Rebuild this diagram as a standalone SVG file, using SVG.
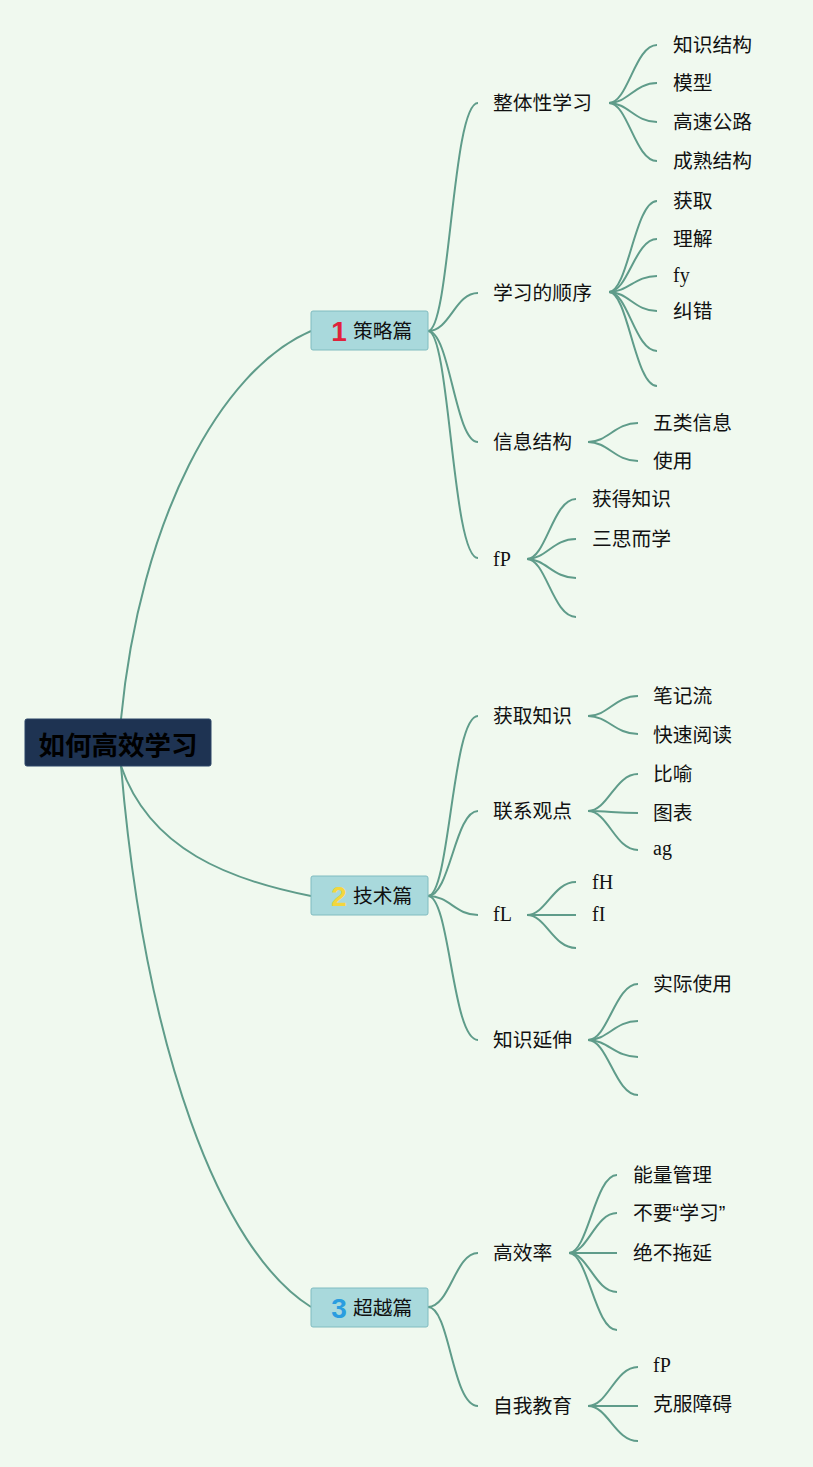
<svg xmlns="http://www.w3.org/2000/svg" width="813" height="1467" viewBox="0 0 813 1467">
<style>
.bg{fill:#f0f9ef}
.c{fill:none;stroke:#5f9c8a;stroke-width:2}
.t{font-family:"Noto Sans CJK SC","Noto Sans",sans-serif;font-size:19.8px;fill:#111}
.q{font-family:"Liberation Sans",sans-serif}
.s{font-family:"Liberation Serif",serif;font-size:20px;fill:#111}
.box{fill:#a9d9dc;stroke:#80bcc0;stroke-width:1}
.num{font-family:"Liberation Sans",Arial,sans-serif;font-weight:bold;font-size:28px}
.root{fill:#1e3352;stroke:#2a4466;stroke-width:1}
.rt{font-family:"Noto Sans CJK SC",sans-serif;font-weight:bold;font-size:26.5px;fill:#000}
</style>
<rect class="bg" x="0" y="0" width="813" height="1467"/>
<g id="connectors">
<path class="c" d="M121,719 C140,520 220,370 311,331"/>
<path class="c" d="M121,766 C150,850 230,880 311,896"/>
<path class="c" d="M121,766 C145,1050 220,1250 311,1307"/>
<path class="c" d="M428,331 C450,331 452,103 478,103"/>
<path class="c" d="M428,331 C450,331 455,293 478,293"/>
<path class="c" d="M428,331 C450,331 455,442 478,442"/>
<path class="c" d="M428,331 C450,331 452,558 478,558"/>
<path class="c" d="M609,103 C628,103 635,45 657,45"/>
<path class="c" d="M609,103 C628,103 635,83 657,83"/>
<path class="c" d="M609,103 C628,103 635,122 657,122"/>
<path class="c" d="M609,103 C628,103 635,161 657,161"/>
<path class="c" d="M609,292 C628,292 635,201 657,201"/>
<path class="c" d="M609,292 C628,292 635,239 657,239"/>
<path class="c" d="M609,292 C628,292 635,276 657,276"/>
<path class="c" d="M609,292 C628,292 635,311 657,311"/>
<path class="c" d="M609,292 C628,292 635,351 657,351"/>
<path class="c" d="M609,292 C628,292 635,386 657,386"/>
<path class="c" d="M588,442 C608,442 615,423 638,423"/>
<path class="c" d="M588,442 C608,442 615,461 638,461"/>
<path class="c" d="M527,559 C546,559 553,499 576,499"/>
<path class="c" d="M527,559 C546,559 553,539 576,539"/>
<path class="c" d="M527,559 C546,559 553,578 576,578"/>
<path class="c" d="M527,559 C546,559 553,617 576,617"/>
<path class="c" d="M428,896 C450,896 452,716 478,716"/>
<path class="c" d="M428,896 C450,896 455,811 478,811"/>
<path class="c" d="M428,896 C450,896 455,915 478,915"/>
<path class="c" d="M428,896 C450,896 452,1040 478,1040"/>
<path class="c" d="M588,716 C608,716 615,696 638,696"/>
<path class="c" d="M588,716 C608,716 615,734 638,734"/>
<path class="c" d="M588,811 C608,811 615,774 638,774"/>
<path class="c" d="M588,811 C608,811 615,813 638,813"/>
<path class="c" d="M588,811 C608,811 615,850 638,850"/>
<path class="c" d="M527,915 C546,915 553,882 576,882"/>
<path class="c" d="M527,915 C546,915 553,915 576,915"/>
<path class="c" d="M527,915 C546,915 553,948 576,948"/>
<path class="c" d="M588,1040 C608,1040 615,984 638,984"/>
<path class="c" d="M588,1040 C608,1040 615,1021 638,1021"/>
<path class="c" d="M588,1040 C608,1040 615,1057 638,1057"/>
<path class="c" d="M588,1040 C608,1040 615,1095 638,1095"/>
<path class="c" d="M428,1307 C450,1307 455,1253 478,1253"/>
<path class="c" d="M428,1307 C450,1307 452,1406 478,1406"/>
<path class="c" d="M569,1253 C588,1253 595,1175 617,1175"/>
<path class="c" d="M569,1253 C588,1253 595,1213 617,1213"/>
<path class="c" d="M569,1253 C588,1253 595,1253 617,1253"/>
<path class="c" d="M569,1253 C588,1253 595,1292 617,1292"/>
<path class="c" d="M569,1253 C588,1253 595,1330 617,1330"/>
<path class="c" d="M588,1406 C608,1406 615,1367 638,1367"/>
<path class="c" d="M588,1406 C608,1406 615,1406 638,1406"/>
<path class="c" d="M588,1406 C608,1406 615,1441 638,1441"/>
</g>
<g id="root"><rect class="root" x="25" y="719" width="186" height="47" rx="2"/><text class="rt" x="118" y="755" text-anchor="middle">如何高效学习</text></g>
<g id="n1"><rect class="box" x="311" y="311" width="117" height="39" rx="2"/><text class="num" x="339" y="341" text-anchor="middle" fill="#e0223b">1</text><text class="t" x="353" y="338">策略篇</text></g>
<g id="n2"><rect class="box" x="311" y="876" width="117" height="39" rx="2"/><text class="num" x="339" y="906" text-anchor="middle" fill="#f3d63e">2</text><text class="t" x="353" y="903">技术篇</text></g>
<g id="n3"><rect class="box" x="311" y="1288" width="117" height="39" rx="2"/><text class="num" x="339" y="1318" text-anchor="middle" fill="#2a9de0">3</text><text class="t" x="353" y="1315">超越篇</text></g>
<g id="n1-1"><text class="t" x="493" y="110">整体性学习</text></g>
<g id="n1-1-1"><text class="t" x="673" y="52">知识结构</text></g>
<g id="n1-1-2"><text class="t" x="673" y="90">模型</text></g>
<g id="n1-1-3"><text class="t" x="673" y="129">高速公路</text></g>
<g id="n1-1-4"><text class="t" x="673" y="168">成熟结构</text></g>
<g id="n1-2"><text class="t" x="493" y="300">学习的顺序</text></g>
<g id="n1-2-1"><text class="t" x="673" y="208">获取</text></g>
<g id="n1-2-2"><text class="t" x="673" y="246">理解</text></g>
<g id="n1-2-3"><text class="s" x="673" y="282">fy</text></g>
<g id="n1-2-4"><text class="t" x="673" y="318">纠错</text></g>
<g id="n1-3"><text class="t" x="493" y="449">信息结构</text></g>
<g id="n1-3-1"><text class="t" x="653" y="430">五类信息</text></g>
<g id="n1-3-2"><text class="t" x="653" y="468">使用</text></g>
<g id="n1-4"><text class="s" x="493" y="566">fP</text></g>
<g id="n1-4-1"><text class="t" x="592" y="506">获得知识</text></g>
<g id="n1-4-2"><text class="t" x="592" y="546">三思而学</text></g>
<g id="n2-1"><text class="t" x="493" y="723">获取知识</text></g>
<g id="n2-1-1"><text class="t" x="653" y="703">笔记流</text></g>
<g id="n2-1-2"><text class="t" x="653" y="742">快速阅读</text></g>
<g id="n2-2"><text class="t" x="493" y="818">联系观点</text></g>
<g id="n2-2-1"><text class="t" x="653" y="781">比喻</text></g>
<g id="n2-2-2"><text class="t" x="653" y="820">图表</text></g>
<g id="n2-2-3"><text class="s" x="653" y="855">ag</text></g>
<g id="n2-3"><text class="s" x="493" y="921">fL</text></g>
<g id="n2-3-1"><text class="s" x="592" y="889">fH</text></g>
<g id="n2-3-2"><text class="s" x="592" y="921">fI</text></g>
<g id="n2-4"><text class="t" x="493" y="1047">知识延伸</text></g>
<g id="n2-4-1"><text class="t" x="653" y="991">实际使用</text></g>
<g id="n3-1"><text class="t" x="493" y="1260">高效率</text></g>
<g id="n3-1-1"><text class="t" x="633" y="1182">能量管理</text></g>
<g id="n3-1-2"><text class="t" x="633" y="1220">不要<tspan class="q">“</tspan>学习<tspan class="q">”</tspan></text></g>
<g id="n3-1-3"><text class="t" x="633" y="1260">绝不拖延</text></g>
<g id="n3-2"><text class="t" x="493" y="1413">自我教育</text></g>
<g id="n3-2-1"><text class="s" x="653" y="1372">fP</text></g>
<g id="n3-2-2"><text class="t" x="653" y="1411">克服障碍</text></g>
</svg>
